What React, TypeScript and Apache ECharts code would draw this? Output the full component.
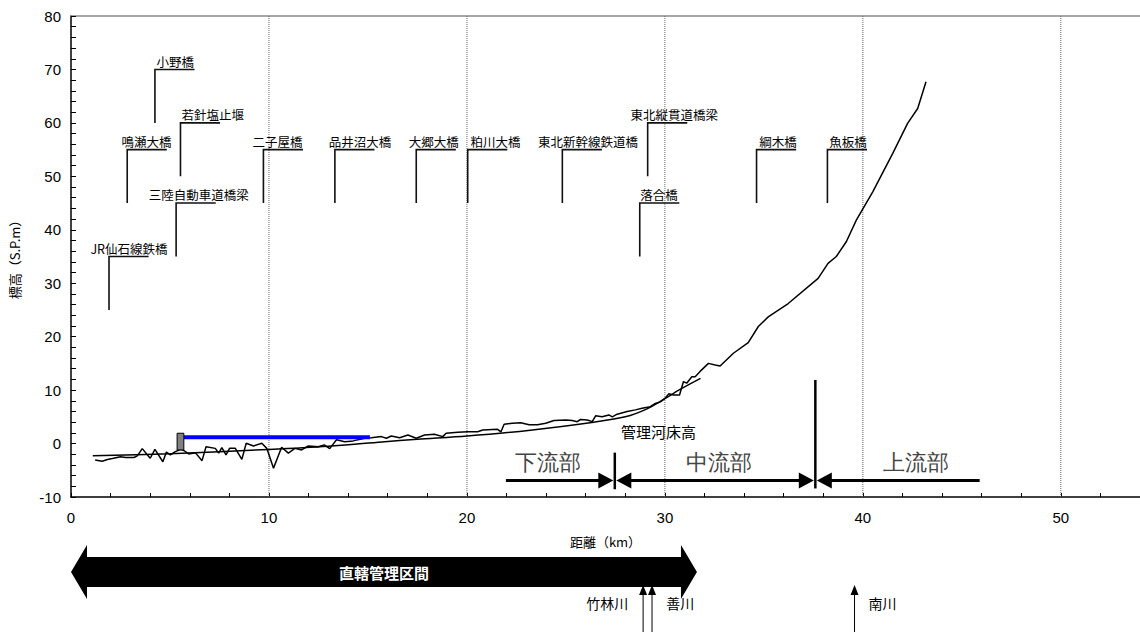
import React, { useEffect, useRef } from "react";
import * as echarts from "echarts";

// ---- data ----
const profileKm = [1.22, 1.58, 1.84, 2.09, 2.5, 2.76, 3.18, 3.35, 3.6, 4.0, 4.24, 4.64, 4.82, 5.02, 5.27, 5.55, 5.7, 5.95, 6.28, 6.62, 6.82, 7.29, 7.46, 7.62, 7.83, 8.01, 8.3, 8.63, 8.85, 9.22, 9.64, 9.89, 10.23, 10.64, 10.98, 11.31, 11.65, 11.99, 12.49, 12.79, 13.07, 13.41, 13.83, 14.25, 14.84, 15.17, 15.68, 15.93, 16.18, 16.6, 17.02, 17.44, 17.86, 18.36, 18.78, 18.95, 19.54, 20.04, 20.54, 20.8, 21.55, 21.72, 21.88, 22.3, 22.72, 23.14, 23.56, 23.98, 24.4, 24.99, 25.32, 25.57, 25.74, 26.08, 26.33, 26.5, 26.83, 27.17, 27.34, 27.59, 28.09, 28.51, 28.85, 29.26, 29.52, 29.77, 30.02, 30.19, 30.44, 30.74, 30.94, 31.1, 31.36, 31.53, 31.78, 32.2, 32.54, 32.79, 33.46, 34.21, 34.72, 35.22, 36.23, 37.74, 38.24, 38.66, 39.17, 39.67, 40.5, 41.51, 42.26, 42.77, 43.19];
const profileElev = [-3.07, -3.3, -3.0, -2.8, -2.45, -2.6, -2.6, -2.3, -0.95, -2.75, -1.1, -3.4, -1.6, -2.1, -1.5, -1.07, -1.3, -1.95, -1.7, -3.2, -0.6, -0.9, -1.8, -0.75, -2.1, -0.9, -0.9, -2.95, 0.05, -0.45, 0.05, -0.9, -4.6, -0.7, -1.8, -0.9, -1.2, -0.45, -0.6, -0.25, -0.95, 0.7, 0.35, 0.5, 1.0, 1.1, 1.3, 1.0, 1.42, 1.1, 1.6, 1.0, 1.6, 1.74, 1.3, 1.93, 2.1, 2.2, 2.2, 2.55, 2.67, 2.2, 3.6, 3.8, 3.9, 3.5, 3.5, 3.8, 4.3, 4.4, 4.3, 4.1, 4.5, 4.4, 4.1, 5.2, 5.0, 5.35, 5.0, 5.5, 6.0, 6.3, 6.6, 6.9, 7.5, 7.8, 8.5, 9.3, 9.1, 9.1, 11.6, 11.3, 12.5, 12.5, 13.5, 15.0, 14.7, 14.5, 16.9, 18.9, 21.9, 23.7, 26.2, 30.9, 33.7, 35.0, 37.8, 41.8, 47.1, 54.3, 59.9, 62.7, 67.7];

const planKm = [1.1, 5, 10, 13, 15.7, 17.5, 20, 23.2, 26.4, 28, 29.1, 30, 30.7, 31.8];
const planElev = [-2.3, -1.9, -1.1, -0.5, 0.3, 0.8, 1.4, 2.5, 4.0, 5.0, 6.5, 8.4, 10.0, 12.2];
const planLabel = "管理河床高";
const planLabelKm = 29.68;
const planLabelElev = 2.2;

const pondKm = [5.7, 15.1];
const pondElev = [1.2, 1.2];

const gateKm = [5.36, 5.7];
const gateElev = [-1.2, 1.93];

const bridgeNames = ["JR仙石線鉄橋", "鳴瀬大橋", "小野橋", "若針塩止堰", "三陸自動車道橋梁", "二子屋橋", "品井沼大橋", "大郷大橋", "粕川大橋", "東北新幹線鉄道橋", "東北縦貫道橋梁", "落合橋", "綱木橋", "魚板橋"];
const bridgeKm = [1.92, 2.84, 4.24, 5.53, 5.31, 9.72, 13.33, 17.44, 20.04, 24.82, 29.13, 28.73, 34.63, 38.21];
const bridgeBottom = [25, 45, 60, 50, 35, 45, 45, 45, 45, 45, 50, 35, 45, 45];
const bridgeTop = [35, 55, 70, 60, 45, 55, 55, 55, 55, 55, 60, 45, 55, 55];
const bridgeLabelKm = [2.93, 3.81, 5.27, 7.16, 6.45, 10.43, 14.6, 18.32, 21.44, 26.12, 30.47, 29.7, 35.72, 39.25];

const sectionNames = ["下流部", "中流部", "上流部"];
const sectionFrom = [21.97, 27.47, 37.6];
const sectionTo = [27.47, 37.6, 45.9];
const sectionHeadLeft = [0, 1, 1];
const sectionHeadRight = [1, 1, 0];
const sectionLabelKm = [24.1, 32.74, 42.7];
const sectionArrowElev = -6.9;
const sectionLabelElev = -3.6;

const dividerKm = [27.47, 37.6];
const dividerTop = [-1.7, 11.9];
const dividerBottom = [-8.55, -8.4];

const directName = "直轄管理区間";
const directFrom = 0;
const directTo = 31.62;

const tributaryNames = ["竹林川", "善川", "南川"];
const tributaryKm = [28.9, 29.35, 39.58];
const tributaryLabelKm = [27.09, 30.78, 40.99];

const gridKm = [10, 20, 30, 40, 50];

const xMin = 0;
const xMax = 54;
const yMin = -10;
const yMax = 80;

const FONT = "'Liberation Sans', 'Noto Sans CJK JP', sans-serif";
const JFONT = "'Noto Sans CJK JP', 'Liberation Sans', sans-serif";

export default function App() {
  const ref = useRef<HTMLDivElement>(null);

  useEffect(() => {
    if (!ref.current) return;
    const chart = echarts.init(ref.current, undefined, { renderer: "svg" });

    const option: any = {
      animation: false,
      backgroundColor: "#ffffff",
      grid: { left: 68, right: 0, top: 16, bottom: 135, containLabel: false },
      xAxis: [
        {
          type: "value",
          min: xMin,
          max: xMax,
          interval: 2,
          name: "距離（km）",
          nameLocation: "middle",
          nameGap: 38,
          nameTextStyle: { fontSize: 13, color: "#000", fontFamily: JFONT },
          axisLine: { show: true, onZero: false, lineStyle: { color: "#000", width: 1.5 } },
          axisTick: { show: true, inside: true, length: 4, lineStyle: { color: "#000" } },
          axisLabel: {
            margin: 13,
            fontSize: 15,
            color: "#000",
            fontFamily: FONT,
            showMaxLabel: false,
            formatter: (v: number) => (Math.round(v) % 10 === 0 ? String(Math.round(v)) : ""),
          },
          splitLine: { show: false },
        },
        {
          type: "value",
          position: "top",
          min: xMin,
          max: xMax,
          axisLine: { show: true, onZero: false, lineStyle: { color: "#888", width: 1.5 } },
          axisTick: { show: false },
          axisLabel: { show: false },
          splitLine: { show: false },
        },
      ],
      yAxis: {
        type: "value",
        min: yMin,
        max: yMax,
        interval: 2,
        name: "標高（S.P.m）",
        nameLocation: "middle",
        nameGap: 50,
        nameRotate: 90,
        nameTextStyle: { fontSize: 13, color: "#000", fontFamily: JFONT },
        axisLine: { show: true, onZero: false, lineStyle: { color: "#000", width: 1.5 } },
        axisTick: { show: true, inside: true, length: 5, lineStyle: { color: "#000" } },
        axisLabel: {
          margin: 10,
          fontSize: 15,
          color: "#000",
          fontFamily: FONT,
          formatter: (v: number) => (Math.round(v) % 10 === 0 ? String(Math.round(v)) : ""),
        },
        splitLine: { show: false },
      },
      series: [
        // dotted vertical grid lines
        {
          type: "custom",
          z: 1,
          silent: true,
          data: gridKm.map((k) => [k, yMax]),
          renderItem: (params: any, api: any) => {
            const k = api.value(0);
            const p0 = api.coord([k, yMax]);
            const p1 = api.coord([k, yMin]);
            return {
              type: "line",
              shape: { x1: p0[0], y1: p0[1], x2: p1[0], y2: p1[1] },
              style: { stroke: "#666", lineWidth: 1, lineDash: [1, 1] },
            };
          },
        },
        // planned bed
        {
          type: "line",
          z: 3,
          data: planKm.map((k, i) => [k, planElev[i]]),
          showSymbol: false,
          symbol: "none",
          smooth: 0.3,
          lineStyle: { color: "#000", width: 1.5 },
        },
        // profile
        {
          type: "line",
          z: 3,
          data: profileKm.map((k, i) => [k, profileElev[i]]),
          showSymbol: false,
          symbol: "none",
          lineStyle: { color: "#000", width: 1.5 },
        },
        // pond (blue)
        {
          type: "line",
          z: 4,
          data: pondKm.map((k, i) => [k, pondElev[i]]),
          showSymbol: false,
          symbol: "none",
          lineStyle: { color: "#0000ff", width: 4 },
        },
        // gate rect
        {
          type: "custom",
          z: 5,
          data: [[gateKm[0], gateElev[0], gateKm[1], gateElev[1]]],
          renderItem: (params: any, api: any) => {
            const a = api.coord([api.value(0), api.value(1)]);
            const b = api.coord([api.value(2), api.value(3)]);
            return {
              type: "rect",
              shape: { x: a[0], y: b[1], width: b[0] - a[0], height: a[1] - b[1] },
              style: { fill: "#808080", stroke: "#000", lineWidth: 1 },
            };
          },
        },
        // bridges
        {
          type: "custom",
          z: 6,
          data: bridgeKm.map((k, i) => [k, bridgeBottom[i], bridgeTop[i], bridgeLabelKm[i]]),
          renderItem: (params: any, api: any) => {
            const k = api.value(0);
            const b = api.value(1);
            const t = api.value(2);
            const lk = api.value(3);
            const p0 = api.coord([k, b]);
            const p1 = api.coord([k, t]);
            const p2 = api.coord([k + 2, t]);
            const lp = api.coord([lk, t]);
            return {
              type: "group",
              children: [
                {
                  type: "polyline",
                  shape: { points: [p0, p1, p2] },
                  style: { stroke: "#111", lineWidth: 1.6, fill: null },
                },
                {
                  type: "text",
                  style: {
                    text: bridgeNames[params.dataIndex],
                    x: lp[0],
                    y: lp[1] - 2,
                    align: "center",
                    verticalAlign: "bottom",
                    fill: "#000",
                    fontSize: 12.5,
                    fontFamily: JFONT,
                  },
                },
              ],
            };
          },
        },
        // plan label
        {
          type: "custom",
          z: 6,
          data: [[planLabelKm, planLabelElev]],
          renderItem: (params: any, api: any) => {
            const p = api.coord([api.value(0), api.value(1)]);
            return {
              type: "text",
              style: {
                text: planLabel,
                x: p[0],
                y: p[1],
                align: "center",
                verticalAlign: "middle",
                fill: "#000",
                fontSize: 15,
                fontFamily: JFONT,
              },
            };
          },
        },
        // section arrows
        {
          type: "custom",
          z: 6,
          data: sectionFrom.map((f, i) => [f, sectionTo[i], sectionHeadLeft[i], sectionHeadRight[i], sectionLabelKm[i]]),
          renderItem: (params: any, api: any) => {
            const a = api.coord([api.value(0), sectionArrowElev]);
            const b = api.coord([api.value(1), sectionArrowElev]);
            const hl = api.value(2);
            const hr = api.value(3);
            const lp = api.coord([api.value(4), sectionLabelElev]);
            const L = 15;
            const H = 8;
            const y = a[1];
            const children: any[] = [
              {
                type: "line",
                shape: { x1: a[0] + (hl ? L - 1 : 0), y1: y, x2: b[0] - (hr ? L - 1 : 0), y2: y },
                style: { stroke: "#000", lineWidth: 3 },
              },
              {
                type: "text",
                style: {
                  text: sectionNames[params.dataIndex],
                  x: lp[0],
                  y: lp[1],
                  align: "center",
                  verticalAlign: "middle",
                  fill: "#444",
                  fontSize: 22,
                  fontFamily: "serif",
                },
              },
            ];
            if (hl) {
              children.push({
                type: "polygon",
                shape: { points: [[a[0] + 1.5, y], [a[0] + 1.5 + L, y - H], [a[0] + 1.5 + L, y + H]] },
                style: { fill: "#000" },
              });
            }
            if (hr) {
              children.push({
                type: "polygon",
                shape: { points: [[b[0] - 1.5, y], [b[0] - 1.5 - L, y - H], [b[0] - 1.5 - L, y + H]] },
                style: { fill: "#000" },
              });
            }
            return { type: "group", children };
          },
        },
        // dividers
        {
          type: "custom",
          z: 6,
          data: dividerKm.map((k, i) => [k, dividerTop[i], dividerBottom[i]]),
          renderItem: (params: any, api: any) => {
            const p0 = api.coord([api.value(0), api.value(1)]);
            const p1 = api.coord([api.value(0), api.value(2)]);
            return {
              type: "line",
              shape: { x1: p0[0], y1: p0[1], x2: p1[0], y2: p1[1] },
              style: { stroke: "#000", lineWidth: 2.5 },
            };
          },
        },
        // direct management block arrow (below axis)
        {
          type: "custom",
          z: 6,
          clip: false,
          data: [[directFrom, directTo]],
          renderItem: (params: any, api: any) => {
            const x0 = api.coord([api.value(0), yMin])[0];
            const x1 = api.coord([api.value(1), yMin])[0];
            const yc = api.coord([api.value(0), yMin])[1] + 75;
            const L = 16;
            const HH = 27;
            const BH = 15;
            return {
              type: "group",
              children: [
                {
                  type: "polygon",
                  shape: {
                    points: [
                      [x0, yc],
                      [x0 + L, yc - HH],
                      [x0 + L, yc - BH],
                      [x1 - L, yc - BH],
                      [x1 - L, yc - HH],
                      [x1, yc],
                      [x1 - L, yc + HH],
                      [x1 - L, yc + BH],
                      [x0 + L, yc + BH],
                      [x0 + L, yc + HH],
                    ],
                  },
                  style: { fill: "#000" },
                },
                {
                  type: "text",
                  style: {
                    text: directName,
                    x: (x0 + x1) / 2,
                    y: yc,
                    align: "center",
                    verticalAlign: "middle",
                    fill: "#fff",
                    fontSize: 15,
                    fontWeight: "bold",
                    fontFamily: JFONT,
                  },
                },
              ],
            };
          },
        },
        // tributaries
        {
          type: "custom",
          z: 6,
          clip: false,
          data: tributaryKm.map((k, i) => [k, tributaryLabelKm[i]]),
          renderItem: (params: any, api: any) => {
            const base = api.coord([api.value(0), yMin]);
            const x = base[0];
            const yTop = base[1] + 88;
            const lx = api.coord([api.value(1), yMin])[0];
            return {
              type: "group",
              children: [
                {
                  type: "line",
                  shape: { x1: x, y1: yTop + 8, x2: x, y2: yTop + 60 },
                  style: { stroke: "#000", lineWidth: 1 },
                },
                {
                  type: "polygon",
                  shape: { points: [[x, yTop], [x - 4, yTop + 10], [x + 4, yTop + 10]] },
                  style: { fill: "#000" },
                },
                {
                  type: "text",
                  style: {
                    text: tributaryNames[params.dataIndex],
                    x: lx,
                    y: base[1] + 106,
                    align: "center",
                    verticalAlign: "middle",
                    fill: "#000",
                    fontSize: 14,
                    fontFamily: JFONT,
                  },
                },
              ],
            };
          },
        },
      ],
    };

    chart.setOption(option);
    return () => chart.dispose();
  }, []);

  return (
    <div
      ref={ref}
      style={{ position: "absolute", left: 0, top: 0, width: 1140, height: 632, background: "#fff" }}
    />
  );
}
